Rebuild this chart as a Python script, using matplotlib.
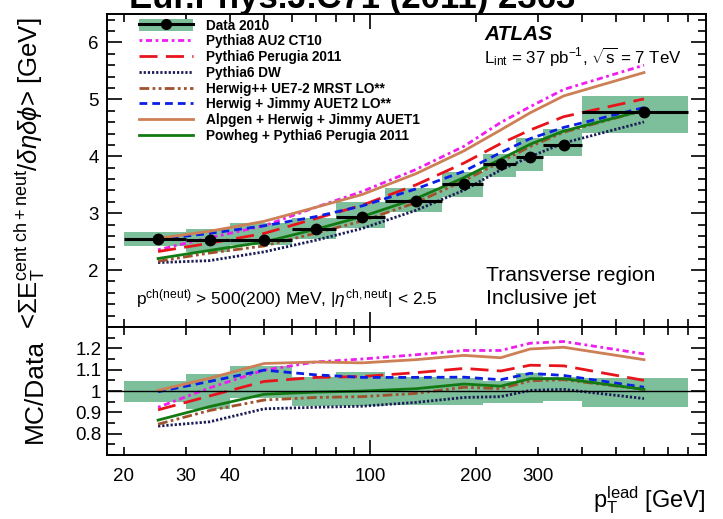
import numpy as np
import matplotlib
matplotlib.use("Agg")
from matplotlib import pyplot as plt
from matplotlib.patches import Rectangle, Patch
from matplotlib.lines import Line2D
from matplotlib.ticker import FixedLocator, FuncFormatter

plt.rcParams["font.family"] = ["Liberation Sans", "DejaVu Sans"]
plt.rcParams["mathtext.fontset"] = "custom"
plt.rcParams["mathtext.rm"] = "Liberation Sans"
plt.rcParams["mathtext.it"] = "Liberation Sans:italic"
plt.rcParams["mathtext.bf"] = "Liberation Sans:bold"

# leading jet pT bins [GeV]
bin_lo = [20, 30, 40, 60, 80, 110, 160, 210, 260, 310, 400]
bin_hi = [30, 40, 60, 80, 110, 160, 210, 260, 310, 400, 800]
bin_mid = [25, 35, 50, 70, 95, 135, 185, 235, 285, 355, 600]

# data 2010 and relative error band (ratio panel)
data = [2.55, 2.53, 2.53, 2.73, 2.94, 3.22, 3.51, 3.86, 3.98, 4.20, 4.77]
band_hi = [1.048, 1.079, 1.118, 1.068, 1.090, 1.068, 1.060, 1.048, 1.086, 1.068, 1.060]
band_lo = [0.947, 0.917, 0.967, 0.932, 0.932, 0.936, 0.936, 0.942, 0.942, 0.955, 0.924]

# MC / Data ratios
r_py8 = [0.924, 1.015, 1.098, 1.136, 1.150, 1.170, 1.190, 1.190, 1.224, 1.232, 1.174]
r_perugia = [0.912, 0.977, 1.045, 1.064, 1.068, 1.086, 1.106, 1.094, 1.121, 1.118, 1.050]
r_dw = [0.836, 0.856, 0.917, 0.924, 0.929, 0.947, 0.970, 0.974, 1.003, 1.008, 0.965]
r_hpp = [0.845, 0.909, 0.958, 0.970, 0.974, 0.989, 1.018, 1.011, 1.048, 1.053, 1.008]
r_auet2 = [0.997, 1.045, 1.098, 1.076, 1.064, 1.064, 1.065, 1.053, 1.083, 1.073, 1.018]
r_alpgen = [1.003, 1.060, 1.129, 1.136, 1.132, 1.147, 1.167, 1.156, 1.197, 1.205, 1.147]
r_powheg = [0.864, 0.927, 0.985, 0.995, 1.000, 1.011, 1.033, 1.023, 1.058, 1.058, 1.008]

MODELS = [
    ("Pythia8 AU2 CT10", r_py8, "#f01cf0", (0, (1, 1.3, 2.2, 1.3))),
    ("Pythia6 Perugia 2011", r_perugia, "#e8141c", (0, (6.5, 3))),
    ("Pythia6 DW", r_dw, "#1b1b55", (0, (0.8, 0.7))),
    ("Herwig++ UE7-2 MRST LO**", r_hpp, "#a0522d", (0, (3.5, 1.2, 1, 1.2, 1, 1.2))),
    ("Herwig + Jimmy AUET2 LO**", r_auet2, "#0a1ee6", (0, (2.8, 1.8))),
    ("Alpgen + Herwig + Jimmy AUET1", r_alpgen, "#cd7f55", "-"),
    ("Powheg + Pythia6 Perugia 2011", r_powheg, "#137a13", "-"),
]

BAND = "#7dbe9b"

fig = plt.figure(figsize=(7.23, 5.19), dpi=100)
ax = fig.add_axes([0.148, 0.370, 0.828, 0.603])
ax2 = fig.add_axes([0.148, 0.123, 0.828, 0.247], sharex=ax)

# error boxes
for lo, hi, d, bh, bl in zip(bin_lo, bin_hi, data, band_hi, band_lo):
    ax.add_patch(Rectangle((lo, d * bl), hi - lo, d * (bh - bl), fc=BAND, ec="none", zorder=1))
    ax2.add_patch(Rectangle((lo, bl), hi - lo, bh - bl, fc=BAND, ec="none", zorder=1))

# MC curves
handles = []
for name, ratio, col, ls in MODELS:
    mc = np.array(data) * np.array(ratio)
    ax.plot(bin_mid, mc, color=col, ls=ls, lw=2.0, zorder=2)
    ax2.plot(bin_mid, ratio, color=col, ls=ls, lw=2.0, zorder=2)
    handles.append(Line2D([], [], color=col, ls=ls, lw=2.0))

# data points
xerr = [np.array(bin_mid) - np.array(bin_lo), np.array(bin_hi) - np.array(bin_mid)]
ax.errorbar(bin_mid, data, xerr=xerr, fmt="o", color="black", ms=7.5, elinewidth=2.2,
            capsize=0, zorder=3)
ax2.axhline(1.0, color="black", lw=1.0, zorder=2)

data_handle = (Patch(fc=BAND, ec="none"),
               Line2D([], [], color="black", marker="o", ms=7, lw=2.2))
leg = ax.legend([data_handle] + handles,
                ["Data 2010"] + [m[0] for m in MODELS],
                loc="upper left", bbox_to_anchor=(0.035, 1.02), frameon=False,
                prop={"weight": "bold", "size": 9.8}, handlelength=4.0,
                handletextpad=0.9, labelspacing=0.13, borderpad=0.3,
                handleheight=0.9)

# axes setup
ax.set_xscale("log")
ax.set_xlim(17.9, 898)
ax.set_ylim(1.0, 6.5)
ax2.set_ylim(0.7, 1.3)

xminor = [20, 30, 40, 50, 60, 70, 80, 90, 200, 300, 400, 500, 600, 700, 800]
xlabeled = [20, 30, 40, 200, 300]
for a in (ax, ax2):
    a.xaxis.set_major_locator(FixedLocator([100]))
    a.xaxis.set_minor_locator(FixedLocator(xminor))
    a.tick_params(which="both", direction="in", top=True, right=True, labelsize=13.5)
    a.tick_params(which="major", length=11, width=1.2)
    a.tick_params(which="minor", length=5.5, width=1.2)
    for s in a.spines.values():
        s.set_linewidth(1.4)

ax.set_yticks([2, 3, 4, 5, 6])
ax.yaxis.set_minor_locator(FixedLocator(np.arange(1.0, 6.6, 0.2)))
ax.tick_params(axis="x", which="both", labelbottom=False)
ax.tick_params(axis="y", which="major", pad=6)

ax2.set_yticks([0.8, 0.9, 1.0, 1.1, 1.2])
ax2.set_yticklabels(["0.8", "0.9", "1", "1.1", "1.2"])
ax2.yaxis.set_minor_locator(FixedLocator(np.arange(0.7, 1.31, 0.05)))
ax2.tick_params(axis="y", which="major", pad=4)
ax2.xaxis.set_major_formatter(FuncFormatter(lambda v, p: "%d" % v))
ax2.xaxis.set_minor_formatter(FuncFormatter(lambda v, p: "%d" % v if int(round(v)) in xlabeled else ""))
ax2.tick_params(axis="x", which="both", pad=9)

ax.set_ylabel(r"<$\Sigma$E$_{\rm T}^{\rm cent\ ch+neut}$/$\delta\eta\delta\phi$> [GeV]", fontsize=18.5)
ax.yaxis.set_label_coords(-0.1, 0.49)
ax2.set_ylabel("MC/Data", fontsize=19)
ax2.yaxis.set_label_coords(-0.1, 0.5)
fig.text(0.976, 1 - 500 / 519, r"p$_{\rm T}^{\rm lead}$ [GeV]", ha="right", va="center", fontsize=17)

# annotations
ax.text(0.63, 0.935, "ATLAS", transform=ax.transAxes, fontsize=15, weight="bold", style="italic",
        va="center")
ax.text(0.63, 0.86, r"L$_{\rm int}$ = 37 pb$^{-1}$, $\sqrt{\rm s}$ = 7 TeV", transform=ax.transAxes,
        fontsize=12.2, va="center")
ax.text(0.633, 0.165, "Transverse region", transform=ax.transAxes, fontsize=15.2, va="center")
ax.text(0.633, 0.09, "Inclusive jet", transform=ax.transAxes, fontsize=15.2, va="center")
ax.text(0.048, 0.09, r"p$^{\rm ch(neut)}$ > 500(200) MeV, |$\eta^{\rm ch,neut}$| < 2.5",
        transform=ax.transAxes, fontsize=12.5, va="center")

# journal reference, cut off at the top edge
fig.text(0.178, 1 - 8 / 519, "Eur.Phys.J.C71 (2011) 2363", fontsize=25, weight="bold",
         va="baseline", ha="left")

fig.savefig("out.png", dpi=100)
